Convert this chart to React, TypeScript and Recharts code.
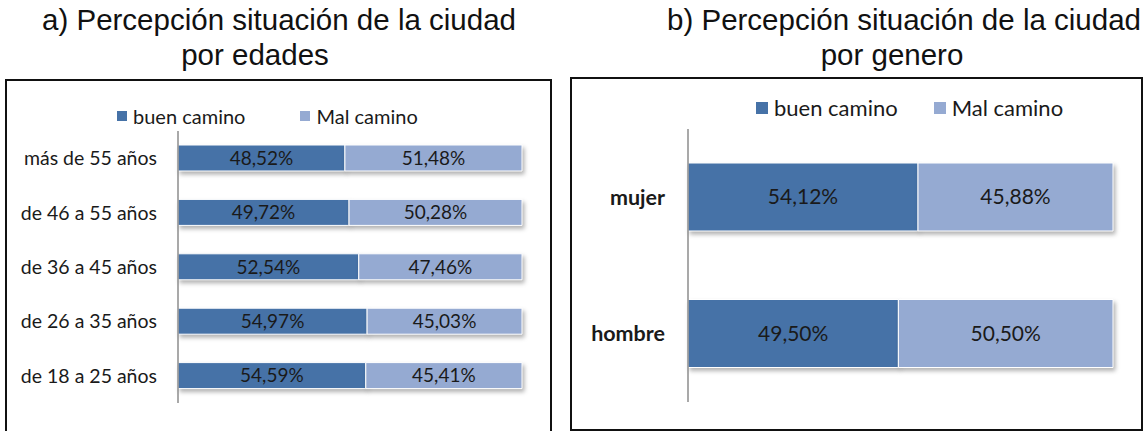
import React from "react";
import { BarChart, Bar, XAxis, YAxis, Legend, LabelList } from "recharts";

// a) por edades
const AGE_GROUPS = [
  "más de 55 años",
  "de 46 a 55 años",
  "de 36 a 45 años",
  "de 26 a 35 años",
  "de 18 a 25 años",
];
const AGE_BUEN = [48.52, 49.72, 52.54, 54.97, 54.59];
const AGE_MAL = [51.48, 50.28, 47.46, 45.03, 45.41];

// b) por genero
const GENDERS = ["mujer", "hombre"];
const GENDER_BUEN = [54.12, 49.5];
const GENDER_MAL = [45.88, 50.5];

const SERIES_NAMES = ["buen camino", "Mal camino"];

const ageData = AGE_GROUPS.map((name, i) => ({
  name,
  buen: AGE_BUEN[i],
  mal: AGE_MAL[i],
}));
const genderData = GENDERS.map((name, i) => ({
  name,
  buen: GENDER_BUEN[i],
  mal: GENDER_MAL[i],
}));

const DARK = "#4672a7";
const LIGHT = "#95aad2";
const FONT = "Lato, 'Open Sans', sans-serif";
const TEXT = "#1a1a1a";

const fmt = (v: any) => Number(v).toFixed(2).replace(".", ",") + "%";

function legendContent(size: number, fontSize: number, gap: number) {
  return (props: any) => {
    // keep the series order of the original legend
    const items = [...(props.payload || [])].sort(
      (a: any, b: any) => SERIES_NAMES.indexOf(a.value) - SERIES_NAMES.indexOf(b.value)
    );
    return (
      <div
        style={{
          display: "flex",
          alignItems: "center",
          gap,
          fontFamily: FONT,
          fontSize,
          color: TEXT,
          whiteSpace: "nowrap",
          lineHeight: "26px",
        }}
      >
        {items.map((p: any) => (
          <span key={p.value} style={{ display: "inline-flex", alignItems: "center" }}>
            <span
              style={{
                width: size,
                height: size,
                background: p.color,
                marginRight: 6,
                display: "inline-block",
              }}
            />
            {p.value}
          </span>
        ))}
      </div>
    );
  };
}

function AgeChart() {
  return (
    <BarChart
      width={560}
      height={431}
      data={ageData}
      layout="vertical"
      margin={{ top: 131, right: 38, bottom: 28, left: 0 }}
    >
      <XAxis type="number" domain={[0, 100]} hide />
      <YAxis
        type="category"
        dataKey="name"
        width={178}
        tickLine={false}
        tickMargin={15}
        axisLine={{ stroke: "#8c8c8c", strokeWidth: 1.5 }}
        tick={{ fill: TEXT, fontSize: 19.5, fontFamily: FONT }}
      />
      <Legend
        verticalAlign="middle"
        align="center"
        wrapperStyle={{ left: 117, top: 103, width: 340 }}
        content={legendContent(10, 20, 55)}
      />
      <Bar dataKey="buen" name={SERIES_NAMES[0]} stackId="s" fill={DARK} stroke="#fff" strokeWidth={1} barSize={26} isAnimationActive={false}>
        <LabelList dataKey="buen" position="center" formatter={fmt} fill={TEXT} fontSize={19} fontFamily={FONT} />
      </Bar>
      <Bar dataKey="mal" name={SERIES_NAMES[1]} stackId="s" fill={LIGHT} stroke="#fff" strokeWidth={1} barSize={26} isAnimationActive={false}>
        <LabelList dataKey="mal" position="center" formatter={fmt} fill={TEXT} fontSize={19} fontFamily={FONT} />
      </Bar>
    </BarChart>
  );
}

function GenderChart() {
  return (
    <BarChart
      width={575}
      height={431}
      data={genderData}
      layout="vertical"
      margin={{ top: 129, right: 32, bottom: 29, left: 0 }}
    >
      <XAxis type="number" domain={[0, 100]} hide />
      <YAxis
        type="category"
        dataKey="name"
        width={118}
        tickLine={false}
        tickMargin={17}
        axisLine={{ stroke: "#8c8c8c", strokeWidth: 1.5 }}
        tick={{ fill: TEXT, fontSize: 21.5, fontWeight: 700, fontFamily: FONT }}
      />
      <Legend
        verticalAlign="middle"
        align="center"
        wrapperStyle={{ left: 186, top: 95, width: 360 }}
        content={legendContent(12, 22, 36)}
      />
      <Bar dataKey="buen" name={SERIES_NAMES[0]} stackId="s" fill={DARK} stroke="#fff" strokeWidth={1} barSize={68} isAnimationActive={false}>
        <LabelList dataKey="buen" position="center" formatter={fmt} fill={TEXT} fontSize={21} fontFamily={FONT} />
      </Bar>
      <Bar dataKey="mal" name={SERIES_NAMES[1]} stackId="s" fill={LIGHT} stroke="#fff" strokeWidth={1} barSize={68} isAnimationActive={false}>
        <LabelList dataKey="mal" position="center" formatter={fmt} fill={TEXT} fontSize={21} fontFamily={FONT} />
      </Bar>
    </BarChart>
  );
}

export default function App() {
  const titleFont = "'Liberation Sans', Arial, sans-serif";
  return (
    <div
      style={{
        position: "absolute",
        left: 0,
        top: 0,
        width: 1145,
        height: 431,
        overflow: "hidden",
        background: "#fff",
      }}
    >
      <style>{`.recharts-bar-rectangle path { filter: drop-shadow(2px 3px 2px rgba(0,0,0,0.3)); }`}</style>
      <svg width={1145} height={78} style={{ position: "absolute", left: 0, top: 0 }}>
        <g fontFamily={titleFont} fontSize={29.5} fill="#111" textAnchor="middle">
          <text x={279} y={30}>a) Percepción situación de la ciudad</text>
          <text x={255} y={65}>por edades</text>
          <text x={904} y={30}>b) Percepción situación de la ciudad</text>
          <text x={892} y={65}>por genero</text>
        </g>
      </svg>
      <div
        style={{
          position: "absolute",
          left: 5,
          top: 79,
          width: 547,
          height: 380,
          border: "2px solid #111",
          boxSizing: "border-box",
        }}
      />
      <div
        style={{
          position: "absolute",
          left: 570,
          top: 77,
          width: 573,
          height: 354,
          border: "2px solid #111",
          boxSizing: "border-box",
        }}
      />
      <div style={{ position: "absolute", left: 0, top: 0 }}>
        <AgeChart />
      </div>
      <div style={{ position: "absolute", left: 570, top: 0 }}>
        <GenderChart />
      </div>
    </div>
  );
}
